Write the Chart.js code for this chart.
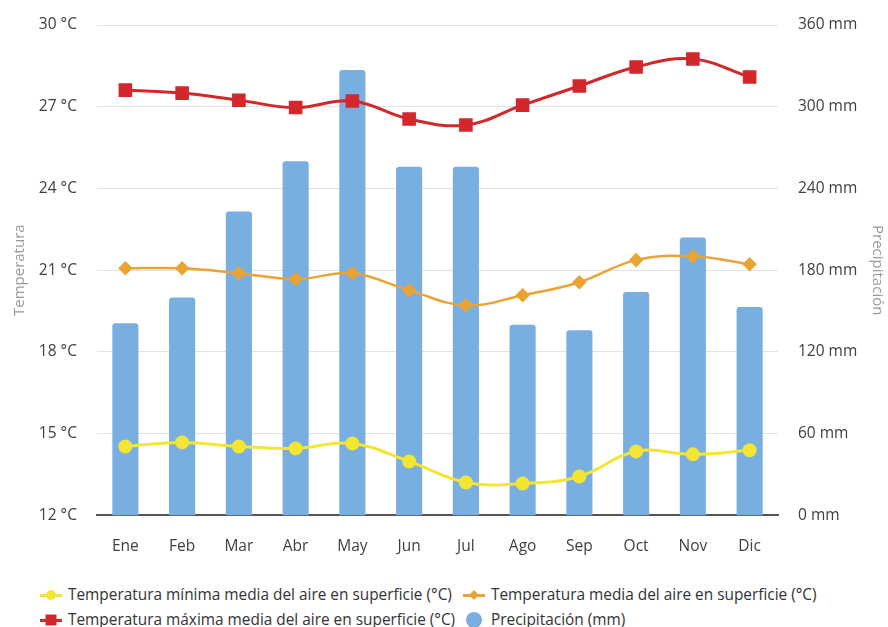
<!DOCTYPE html>
<html>
<head>
<meta charset="utf-8">
<script src="https://cdn.jsdelivr.net/npm/chart.js@4"></script>
<style>
  html, body { margin: 0; padding: 0; background: #fff; }
  body { width: 888px; height: 627px; overflow: hidden; font-family: 'Open Sans', sans-serif; }
  .wrap { position: relative; width: 888px; height: 570px; }
  .legend { position: relative; width: 888px; height: 57px; font-size: 15.4px; color: #333; }
  .item { position: absolute; display: flex; align-items: center; white-space: nowrap; }
  .mk { position: relative; width: 22px; height: 14px; margin-right: 6px; }
  .mk .ln { position: absolute; left: 0; right: 0; top: 6px; height: 3px; }
  .mk .pt { position: absolute; left: 50%; top: 50%; transform: translate(-50%, -50%); }
</style>
</head>
<body>
<div class="wrap"><canvas id="climaChart"></canvas></div>
<div class="legend" id="legend"></div>
<script>
// data
const months = ['Ene', 'Feb', 'Mar', 'Abr', 'May', 'Jun', 'Jul', 'Ago', 'Sep', 'Oct', 'Nov', 'Dic'];
const tempMin = [14.53, 14.68, 14.53, 14.46, 14.64, 13.98, 13.21, 13.17, 13.43, 14.35, 14.24, 14.39];
const tempMedia = [21.07, 21.07, 20.89, 20.67, 20.89, 20.26, 19.71, 20.08, 20.56, 21.37, 21.51, 21.22];
const tempMax = [27.61, 27.5, 27.24, 26.97, 27.21, 26.55, 26.33, 27.06, 27.76, 28.46, 28.75, 28.09];
const precip = [141, 160, 223, 260, 327, 256, 256, 140, 136, 164, 204, 153];
const tempTicks = [12, 15, 18, 21, 24, 27, 30];
const precipTicks = [0, 60, 120, 180, 240, 300, 360];

const labels = {
  min: 'Temperatura mínima media del aire en superficie (°C)',
  media: 'Temperatura media del aire en superficie (°C)',
  max: 'Temperatura máxima media del aire en superficie (°C)',
  precip: 'Precipitación (mm)'
};
const colors = { min: '#f2e633', media: '#eaa433', max: '#d2272b', precip: '#79aee1' };

const tickFont = { family: "'Open Sans', sans-serif", size: 15.5 };
const titleFont = { family: "'Open Sans', sans-serif", size: 15 };

document.addEventListener('DOMContentLoaded', () => {
  const ctx = document.getElementById('climaChart').getContext('2d');
  new Chart(ctx, {
    data: {
      labels: months,
      datasets: [
        { type: 'line', label: labels.min, data: tempMin, yAxisID: 'yT', borderColor: colors.min, backgroundColor: colors.min, borderWidth: 3, pointStyle: 'circle', pointRadius: 5.5, tension: 0.4, order: 1 },
        { type: 'line', label: labels.media, data: tempMedia, yAxisID: 'yT', borderColor: colors.media, backgroundColor: colors.media, borderWidth: 2.5, pointStyle: 'rectRot', pointRadius: 5.5, tension: 0.4, order: 1 },
        { type: 'line', label: labels.max, data: tempMax, yAxisID: 'yT', borderColor: colors.max, backgroundColor: colors.max, borderWidth: 3, pointStyle: 'rect', pointRadius: 7.5, tension: 0.4, order: 1 },
        { type: 'bar', label: labels.precip, data: precip, yAxisID: 'yP', backgroundColor: colors.precip, borderRadius: { topLeft: 3, topRight: 3 }, borderSkipped: 'bottom', categoryPercentage: 0.8, barPercentage: 0.575, order: 2 }
      ]
    },
    options: {
      responsive: true,
      maintainAspectRatio: false,
      animation: false,
      layout: { padding: { top: 0, left: 11, right: 2, bottom: 0 } },
      plugins: { legend: { display: false }, tooltip: { enabled: false } },
      scales: {
        x: {
          grid: { display: false },
          border: { color: '#555', width: 2 },
          ticks: { color: '#404040', font: tickFont, padding: 14 }
        },
        yT: {
          position: 'left', min: 12, max: 30,
          afterBuildTicks: (s) => { s.ticks = tempTicks.map(v => ({ value: v })); },
          afterFit: (s) => { s.width = 86; s.paddingTop = 25; },
          grid: { color: '#e2e2e2', drawTicks: false },
          border: { display: false },
          ticks: { color: '#404040', font: tickFont, padding: 20, callback: (v) => v + ' °C' },
          title: { display: true, text: 'Temperatura', color: '#9a9a9a', font: titleFont, padding: { top: 0, bottom: 0 } }
        },
        yP: {
          position: 'right', min: 0, max: 360,
          afterBuildTicks: (s) => { s.ticks = precipTicks.map(v => ({ value: v })); },
          afterFit: (s) => { s.width = 108; s.paddingTop = 25; },
          grid: { display: false, drawTicks: false },
          border: { display: false },
          ticks: { color: '#404040', font: tickFont, padding: 20, callback: (v) => v + ' mm' },
          title: { display: true, text: 'Precipitación', color: '#9a9a9a', font: titleFont, padding: { top: 0, bottom: 0 } }
        }
      }
    }
  });

  // html legend, two columns
  const legend = document.getElementById('legend');
  const items = [
    { key: 'min', x: 40, y: 24, shape: 'circle' },
    { key: 'media', x: 463, y: 24, shape: 'diamond' },
    { key: 'max', x: 40, y: 49, shape: 'square' },
    { key: 'precip', x: 463, y: 49, shape: 'dot' }
  ];
  items.forEach(it => {
    const c = colors[it.key];
    const el = document.createElement('div');
    el.className = 'item';
    el.style.left = it.x + 'px';
    el.style.top = (it.y - 10) + 'px';
    let pt = '';
    if (it.shape === 'circle') pt = `<span class="pt" style="width:10px;height:10px;border-radius:50%;background:${c}"></span>`;
    if (it.shape === 'diamond') pt = `<span class="pt" style="width:7px;height:7px;background:${c};transform:translate(-50%,-50%) rotate(45deg)"></span>`;
    if (it.shape === 'square') pt = `<span class="pt" style="width:11px;height:11px;background:${c}"></span>`;
    if (it.shape === 'dot') pt = `<span class="pt" style="width:16px;height:16px;border-radius:50%;background:${c}"></span>`;
    const ln = it.shape === 'dot' ? '' : `<span class="ln" style="background:${c}"></span>`;
    el.innerHTML = `<span class="mk">${ln}${pt}</span><span>${labels[it.key]}</span>`;
    legend.appendChild(el);
  });
});
</script>
</body>
</html>
